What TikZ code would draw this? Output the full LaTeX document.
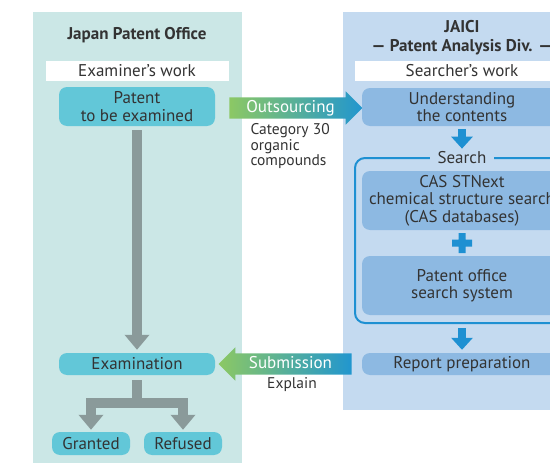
\documentclass[tikz,border=0pt]{standalone}
\usepackage{fontspec}
\setmainfont{PT Sans}
\usetikzlibrary{shapes.arrows,arrows.meta}
\definecolor{jpo area}{HTML}{CBE7E6}
\definecolor{jaici area}{HTML}{C4DAF0}
\definecolor{jpo box}{HTML}{62C7D8}
\definecolor{jaici box}{HTML}{8DB9E2}
\definecolor{flow gray}{HTML}{8A9A9A}
\definecolor{search blue}{HTML}{1E90D2}
\definecolor{ink}{HTML}{333333}
\definecolor{arrow green}{HTML}{8CC864}
\definecolor{arrow blue}{HTML}{2196CF}
\tikzset{
    every node/.style={text=ink, font=\fontsize{17}{17.5}\selectfont},
    workbox/.style={fill=white, minimum height=20pt, inner sep=0pt},
    jpobox/.style={fill=jpo box, rounded corners=8pt, align=center, inner sep=0pt},
    jaicibox/.style={fill=jaici box, rounded corners=8pt, align=center, inner sep=0pt, minimum width=200pt},
    flow/.style={draw=flow gray, line width=10pt, -{Triangle[width=24pt,length=15pt]}},
    downarrow/.style={draw=search blue, line width=8pt, -{Triangle[width=21pt,length=12pt]}},
    bigarrow/.style={single arrow, left color=arrow green, right color=arrow blue,
        minimum height=133pt, text height=11pt, text depth=3pt, inner ysep=3.5pt,
        inner xsep=0pt, single arrow head extend=6pt, single arrow tip angle=90, text=white}
}

\begin{document}
\begin{tikzpicture}[x=1pt, y=-1pt]
    \useasboundingbox (0,0) rectangle (550,463);
    \clip (0,0) rectangle (550,463);
    \fill[jpo area]   (33,12)  rectangle (242,470);
    \fill[jaici area] (343,12) rectangle (581,410);

    \node[font=\fontsize{17}{19}\selectfont\bfseries] (jpo) at (137,35) {Japan Patent Office};
    \node[workbox, minimum width=183pt] (examiner) at (137,71) {Examiner's work};
    \node[jpobox, minimum width=156pt, minimum height=39pt] (patent) at (137,106.5) {Patent\\to be examined};
    \node[jpobox, minimum width=156pt, minimum height=22pt] (exam) at (137,364) {Examination};
    \node[jpobox, minimum width=78pt, minimum height=23pt] (granted) at (91,443.5) {Granted};
    \node[jpobox, minimum width=78pt, minimum height=23pt] (refused) at (183,443.5) {Refused};

    \node[font=\fontsize{17}{19}\selectfont\bfseries, align=center] (jaici) at (462,37.5) {JAICI\\— Patent Analysis Div. —};
    \node[workbox, minimum width=214pt] (searcher) at (462,71) {Searcher's work};
    \node[jaicibox, minimum height=38pt] (understand) at (462,107) {Understanding\\the contents};
    \node[draw=search blue, line width=2pt, rounded corners=10pt, minimum width=214pt, minimum height=165pt] (frame) at (462,240.5) {};
    \node[fill=jaici area, inner xsep=8pt, inner ysep=1pt] (search) at (462,158) {Search};
    \node[jaicibox, minimum height=59pt] (cas) at (462,200.5) {CAS STNext\\chemical structure search\\(CAS databases)};
    \node[jaicibox, minimum height=59pt] (office) at (462,285.5) {Patent office\\search system};
    \node[jaicibox, minimum height=22pt] (report) at (462,364) {Report preparation};
    \fill[search blue] (452,239.5) rectangle (472,246.5) (458.5,233) rectangle (465.5,253);

    \node[bigarrow] (outsourcing) at (290.5,108) {Outsourcing};
    \node[anchor=north west, align=left, font=\fontsize{15.5}{15.5}\selectfont] (category) at (247,120) {Category 30\\organic\\compounds};
    \node[bigarrow, shape border rotate=180] (submission) at (290.5,364) {Submission};
    \node[font=\fontsize{15.5}{15.5}\selectfont] (explain) at (292,385) {Explain};

    \draw[flow, shorten <=4pt, shorten >=3pt] (patent.south) -- (exam.north);
    \draw[flow, shorten <=5pt, shorten >=2pt] (exam.south) -- ++(0,28) -| (granted.north);
    \draw[flow, shorten <=5pt, shorten >=2pt] (exam.south) -- ++(0,28) -| (refused.north);
    \draw[downarrow, shorten <=3pt, shorten >=2pt] (understand.south) -- (search.north);
    \draw[downarrow, shorten <=4pt, shorten >=3pt] (frame.south) -- (report.north);
\end{tikzpicture}
\end{document}
